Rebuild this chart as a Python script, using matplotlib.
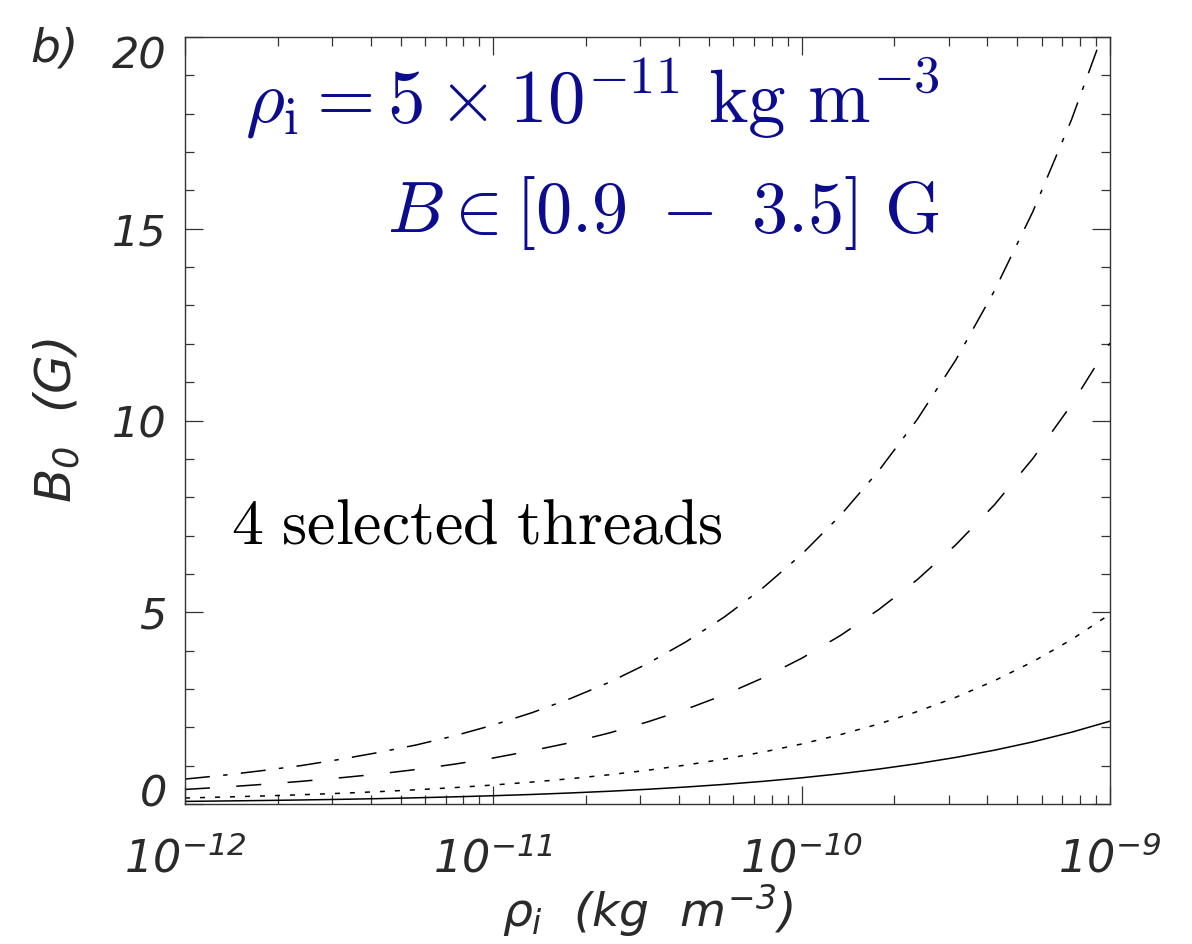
"""
Champ magnétique B0 en fonction de la densité rho_i pour 4 fils sélectionnés.
"""
import numpy as np
import matplotlib
matplotlib.use("Agg")
import matplotlib.pyplot as plt
import matplotlib.transforms as mtransforms
from matplotlib.ticker import FixedLocator, MultipleLocator, LogLocator, NullFormatter

# Densité (kg m^-3), un point tous les huitièmes de décade
log_rho = [-12.0, -11.875, -11.75, -11.625, -11.5, -11.375, -11.25, -11.125,
           -11.0, -10.875, -10.75, -10.625, -10.5, -10.375, -10.25, -10.125,
           -10.0, -9.875, -9.75, -9.625, -9.5, -9.375, -9.25, -9.125, -9.0]

# B0 (G) pour chaque fil
b0_solid = [0.068, 0.079, 0.091, 0.105, 0.121, 0.140, 0.162, 0.187, 0.216,
            0.249, 0.288, 0.332, 0.384, 0.443, 0.512, 0.591, 0.683, 0.789,
            0.911, 1.052, 1.215, 1.403, 1.620, 1.871, 2.16]
b0_dotted = [0.157, 0.181, 0.209, 0.241, 0.278, 0.321, 0.371, 0.428, 0.495,
             0.572, 0.660, 0.762, 0.880, 1.016, 1.174, 1.355, 1.565, 1.807,
             2.087, 2.410, 2.783, 3.214, 3.712, 4.286, 4.95]
b0_dashed = [0.38, 0.44, 0.51, 0.59, 0.68, 0.78, 0.90, 1.04, 1.20, 1.39,
             1.60, 1.85, 2.14, 2.47, 2.85, 3.29, 3.80, 4.39, 5.07, 5.85,
             6.76, 7.80, 9.01, 10.41, 12.02]
b0_dashdot = [0.65, 0.75, 0.87, 1.00, 1.16, 1.34, 1.54, 1.78, 2.06, 2.38,
              2.75, 3.17, 3.66, 4.23, 4.88, 5.64, 6.51, 7.52, 8.69, 10.03,
              11.58, 13.38, 15.45, 17.84, 20.6]

y_ticks = [0, 5, 10, 15, 20]
x_ticks = [1e-12, 1e-11, 1e-10, 1e-9]
x_tick_labels = [r"$10^{-12}$", r"$10^{-11}$", r"$10^{-10}$", r"$10^{-9}$"]

plt.rcParams["lines.scale_dashes"] = False
plt.rcParams["mathtext.fontset"] = "custom"
plt.rcParams["mathtext.rm"] = "DejaVu Sans:italic"
plt.rcParams["mathtext.it"] = "DejaVu Sans:italic"

NAVY = "#0c0c8e"
INK = "#2a2a2a"

fig = plt.figure(figsize=(11.92, 9.44), dpi=100)
ax = fig.add_axes([0.1552, 0.1483, 0.7760, 0.8125])

rho = 10.0 ** np.array(log_rho)
ax.plot(rho, b0_solid, color="black", lw=1.1, ls="-")
ax.plot(rho, b0_dotted, color="black", lw=1.1, ls=(0, (3.6, 7.2)))
ax.plot(rho, b0_dashed, color="black", lw=1.1, ls=(0, (18, 19)))
ax.plot(rho, b0_dashdot, color="black", lw=1.1, ls=(0, (18, 9.6, 3.2, 9.6)))

ax.set_xscale("log")
ax.set_xlim(1e-12, 1e-9)
ax.set_ylim(0, 20)

# Graduations à la manière IDL : vers l'intérieur, sur les quatre côtés
ax.xaxis.set_major_locator(FixedLocator(x_ticks))
ax.xaxis.set_minor_locator(LogLocator(base=10, subs=np.arange(2, 10)))
ax.xaxis.set_minor_formatter(NullFormatter())
ax.set_xticklabels(x_tick_labels)
ax.yaxis.set_major_locator(FixedLocator(y_ticks))
ax.yaxis.set_minor_locator(MultipleLocator(1))
ax.set_yticklabels([str(v) for v in y_ticks])

ax.tick_params(which="both", direction="in", top=True, right=True,
               width=0.9, color="#333333")
ax.tick_params(which="major", length=13)
ax.tick_params(which="minor", length=6.5)
ax.tick_params(axis="x", which="major", pad=24)
ax.tick_params(axis="y", which="major", pad=13)
for lab in ax.get_xticklabels():
    lab.set_fontsize(32)
    lab.set_color(INK)
for lab in ax.get_yticklabels():
    lab.set_fontfamily("DejaVu Sans")
    lab.set_fontstyle("italic")
    lab.set_fontsize(31)
    lab.set_color(INK)

# Les étiquettes extrêmes restent à l'intérieur de l'axe
ylabs = ax.get_yticklabels()
ylabs[0].set_transform(ylabs[0].get_transform() +
                       mtransforms.ScaledTranslation(0, 0.14, fig.dpi_scale_trans))
ylabs[-1].set_transform(ylabs[-1].get_transform() +
                        mtransforms.ScaledTranslation(0, -0.15, fig.dpi_scale_trans))

for sp in ax.spines.values():
    sp.set_linewidth(1.0)
    sp.set_color("#333333")

ax.set_ylabel(r"$B_0\ \ (G)$", fontsize=36, labelpad=22, color=INK)
ax.set_xlabel(r"$\rho_i\ \ (kg\ \ m^{-3})$", fontsize=34, labelpad=0, color=INK)

fig.text(0.025, 0.935, "b)", fontsize=34, style="italic", color=INK,
         family="DejaVu Sans")

ax.text(0.816, 0.889, r"$\rho_{\rm i} = 5 \times 10^{-11}\ {\rm kg\ m^{-3}}$",
        transform=ax.transAxes, ha="right", va="baseline", fontsize=54,
        color=NAVY, math_fontfamily="cm")
ax.text(0.816, 0.746, r"$B \in [0.9\ -\ 3.5]\ {\rm G}$",
        transform=ax.transAxes, ha="right", va="baseline", fontsize=52,
        color=NAVY, math_fontfamily="cm")
ax.text(0.05, 0.340, r"$\mathrm{4\ selected\ threads}$",
        transform=ax.transAxes, ha="left", va="baseline", fontsize=46,
        color="black", math_fontfamily="cm")

fig.savefig("out.png", dpi=100)
